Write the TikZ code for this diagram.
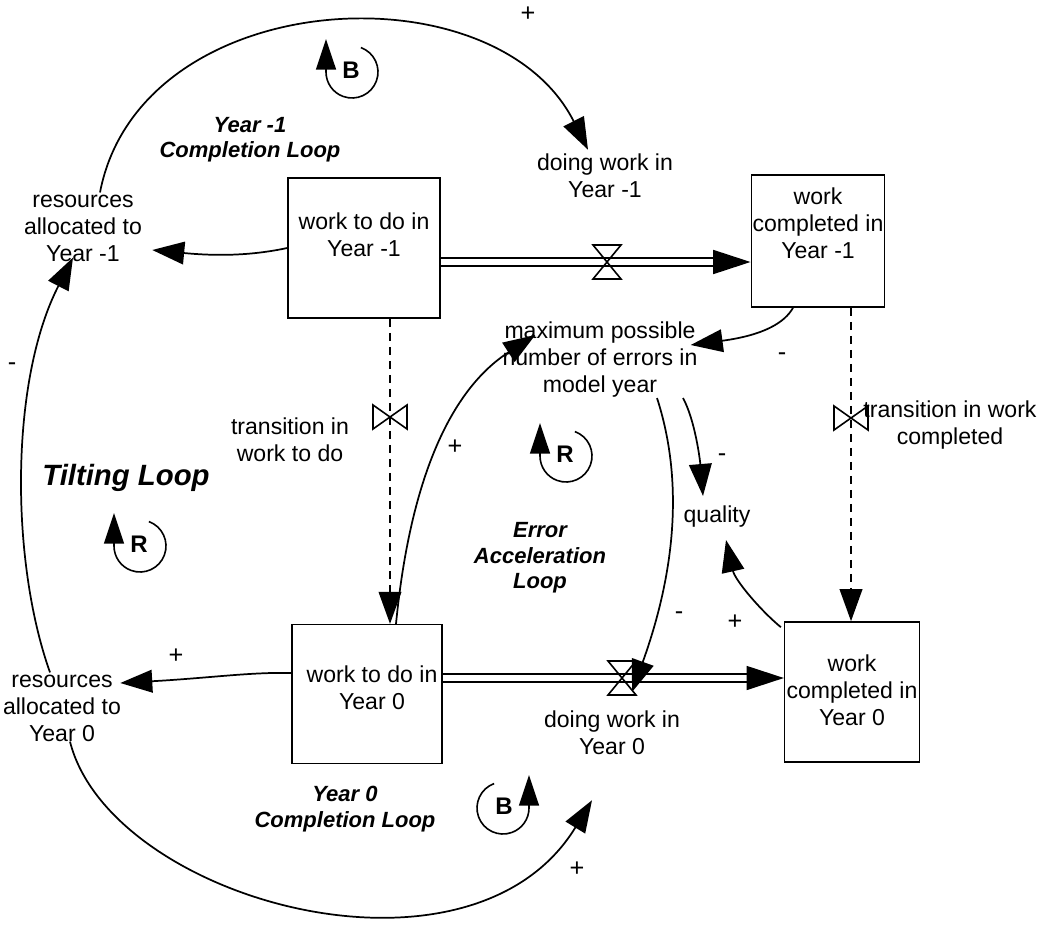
\documentclass[tikz,border=0pt]{standalone}
\usepackage{fontspec}
\setmainfont{Liberation Sans}
\usetikzlibrary{arrows.meta,calc}
\tikzset{
  txt/.style={font=\fontsize{17.3}{20.25}\selectfont, align=center, inner sep=0pt},
  lbl/.style={font=\fontsize{16.5}{19}\selectfont\bfseries\itshape, align=center, inner sep=0pt},
  sgn/.style={font=\fontsize{19}{20}\selectfont, inner sep=0pt},
  stockbox/.style={draw, line width=1.2pt, inner sep=0pt},
  link/.style={line width=1.3pt, -{Triangle[length=24pt,width=17pt]}},
  pipe/.style={line width=1.2pt, double, double distance=4.5pt},
  flowtip/.style={line width=1.2pt, -{Triangle[length=28pt,width=18pt]}},
  dashlink/.style={line width=1.2pt, dash pattern=on 6pt off 4.5pt, -{Triangle[length=24pt,width=17pt]}},
  valveline/.style={line width=1.2pt},
  loopcw/.pic={
    \draw[line width=1.2pt] (-70:26) arc[start angle=-70, end angle=180, radius=26];
    \draw[line width=1.2pt, -{Triangle[length=23pt,width=15pt]}] (180:26) -- ++(0,-33);
    \node[font=\fontsize{18}{20}\selectfont\bfseries, inner sep=0pt] at (-1,-2) {#1};
  },
  loopccw/.pic={
    \draw[line width=1.2pt] (250:26) arc[start angle=250, end angle=0, radius=26];
    \draw[line width=1.2pt, -{Triangle[length=23pt,width=15pt]}] (0:26) -- ++(0,-33);
    \node[font=\fontsize{18}{20}\selectfont\bfseries, inner sep=0pt] at (1,-2) {#1};
  },
}
\begin{document}
\begin{tikzpicture}[x=0.75pt,y=-0.75pt]
\useasboundingbox (0,0) rectangle (1055,931);

% stocks
\node[stockbox, minimum width=114pt, minimum height=105pt] (w1) at (364,248) {};
\node[txt] (w1t) at (364,235) {work to do in\\Year -1};
\node[stockbox, minimum width=100pt, minimum height=99pt] (w2) at (818,241) {};
\node[txt] (w2t) at (818,223) {work\\completed in\\Year -1};
\node[stockbox, minimum width=112.5pt, minimum height=104pt] (w3) at (367,694) {};
\node[txt] (w3t) at (372,688) {work to do in\\Year 0};
\node[stockbox, minimum width=101pt, minimum height=105pt] (w4) at (852,692) {};
\node[txt] (w4t) at (852,690) {work\\completed in\\Year 0};

% auxiliaries
\node[txt] (r1) at (83,228) {resources\\allocated to\\Year -1};
\node[txt] (r0) at (62,708) {resources\\allocated to\\Year 0};
\node[txt] (mx) at (600,360) {maximum possible\\number of errors in\\model year};
\node[txt] (q) at (717,517) {quality};
\node[txt] (f1) at (605,176) {doing work in\\Year -1};
\node[txt] (f2) at (612,733) {doing work in\\Year 0};
\node[txt] (t1) at (290,440) {transition in\\work to do};
\node[txt] (t2) at (950,425) {transition in work\\completed};

% loop labels
\node[lbl] (l1) at (250,140) {Year -1\\Completion Loop};
\node[lbl, font=\fontsize{22}{25}\selectfont\bfseries\itshape] (l2) at (126,478) {Tilting Loop};
\node[lbl] (l3) at (540,558) {Error\\Acceleration\\Loop};
\node[lbl] (l4) at (345,809) {Year 0\\Completion Loop};

% loop markers
\pic at (352,72) {loopcw=B};
\pic at (140,546) {loopcw=R};
\pic at (566,456) {loopcw=R};
\pic at (503,808) {loopccw=B};

% flows
\coordinate (v1) at (607,262);
\coordinate (v2) at (622,678);
\draw[pipe] (w1.east |- v1) -- ($(w2.west |- v1)+(-20,0)$);
\draw[flowtip] ($(w2.west |- v1)+(-36,0)$) -- (w2.west |- v1);
\draw[valveline] ($(v1)+(-14,-17)$) -- ($(v1)+(14,-17)$) -- ($(v1)+(-14,17)$) -- ($(v1)+(14,17)$) -- cycle;
\draw[pipe] (w3.east |- v2) -- ($(w4.west |- v2)+(-20,0)$);
\draw[flowtip] ($(w4.west |- v2)+(-36,0)$) -- (w4.west |- v2);
\draw[valveline] ($(v2)+(-14,-17)$) -- ($(v2)+(14,-17)$) -- ($(v2)+(-14,17)$) -- ($(v2)+(14,17)$) -- cycle;

% transitions (dashed)
\coordinate (tv1) at (390,417);
\coordinate (tv2) at (851,418);
\draw[dashlink] (w1.south -| tv1) -- (w3.north -| tv1);
\draw[valveline] ($(tv1)+(-17,-12)$) -- ($(tv1)+(-17,12)$) -- ($(tv1)+(17,-12)$) -- ($(tv1)+(17,12)$) -- cycle;
\draw[dashlink] (w2.south -| tv2) -- (w4.north -| tv2);
\draw[valveline] ($(tv2)+(-17,-12)$) -- ($(tv2)+(-17,12)$) -- ($(tv2)+(17,-12)$) -- ($(tv2)+(17,12)$) -- cycle;

% links
\draw[link] ($(r1.north)+(17,-2)$) .. controls (140,-15) and (495,-35) .. ($(f1.north)+(-17,-4)$);
\draw[link] ($(r0.south)+(8,0)$) .. controls (110,900) and (470,1000) .. ($(f2.south)+(-20,45)$);
\draw[link] ($(r0.north)+(-12,-2)$) .. controls (10,560) and (10,380) .. ($(r1.south)+(-10,-4)$);
\draw[link] (w1.west) .. controls (250,256) and (215,256) .. ($(r1.east)+(10,22)$);
\draw[link] ($(w3.west)+(0,-21)$) .. controls (250,672) and (210,678) .. ($(r0.east)+(-1,-25)$);
\draw[link] ($(w3.north)+(29,0)$) .. controls (410,480) and (450,390) .. ($(mx.west)+(33,-25)$);
\draw[link] ($(w2.south)+(-25,0)$) .. controls (785,322) and (765,335) .. ($(mx.east)+(-7,-15)$);
\draw[link] ($(mx.south)+(57,0)$) .. controls (690,500) and (665,600) .. ($(v2)+(10,14)$);
\draw[link] ($(mx.south)+(83,0)$) .. controls (695,420) and (700,460) .. ($(q.north)+(-14,-10)$);
\draw[link] ($(w4.north west)+(-3,6)$) .. controls (760,610) and (735,580) .. ($(q.south)+(9,12)$);

% polarities
\node[sgn] (s1) at (528,14) {+};
\node[sgn] (s2) at (12,367) {-};
\node[sgn] (s3) at (455,447) {+};
\node[sgn] (s4) at (782,357) {-};
\node[sgn] (s5) at (722,458) {-};
\node[sgn] (s6) at (679,616) {-};
\node[sgn] (s7) at (735,622) {+};
\node[sgn] (s8) at (176,656) {+};
\node[sgn] (s9) at (577,869) {+};
\end{tikzpicture}
\end{document}
